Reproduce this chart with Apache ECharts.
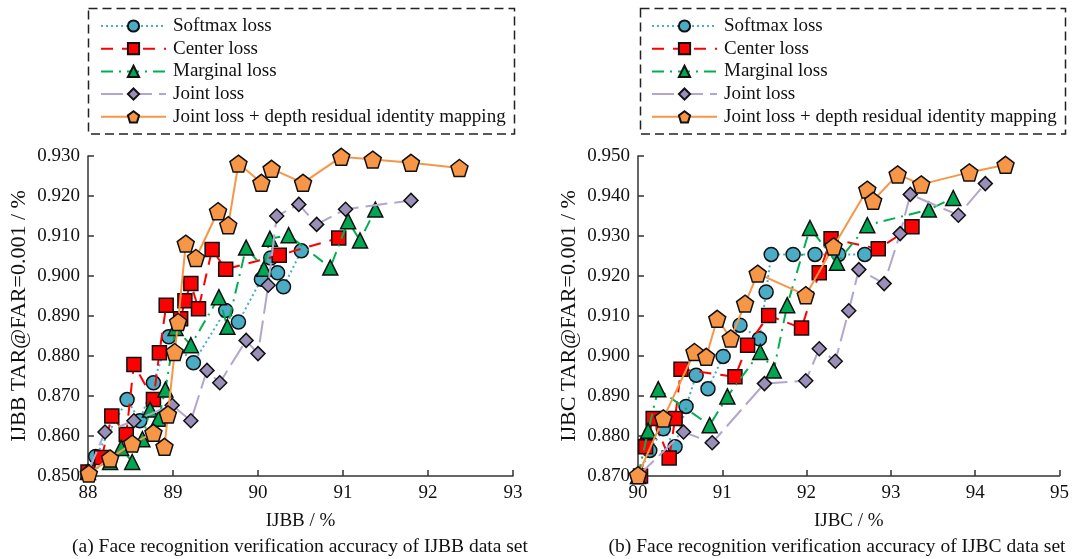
<!DOCTYPE html>
<html><head><meta charset="utf-8">
<script src="https://cdn.jsdelivr.net/npm/echarts@6/dist/echarts.min.js"></script>
<style>html,body{margin:0;padding:0;background:#fff}#c{width:1072px;height:559px}</style>
</head><body><div id="c"></div>
<script>
const seriesNames = ['Softmax loss','Center loss','Marginal loss','Joint loss','Joint loss + depth residual identity mapping'];
const xTicksIJBB = [88,89,90,91,92,93];
const yTicksIJBB = [0.850,0.860,0.870,0.880,0.890,0.900,0.910,0.920,0.930];
const xTicksIJBC = [90,91,92,93,94,95];
const yTicksIJBC = [0.870,0.880,0.890,0.900,0.910,0.920,0.930,0.940,0.950];

const softmaxIJBB = [[88.0,0.851],[88.09,0.8549],[88.46,0.8691],[88.61,0.8638],[88.77,0.8733],[88.95,0.8848],[89.24,0.8783],[89.62,0.8914],[89.77,0.8885],[90.04,0.8992],[90.15,0.9045],[90.23,0.9008],[90.30,0.8973],[90.51,0.9063]];
const centerIJBB = [[88.0,0.851],[88.16,0.8546],[88.28,0.865],[88.45,0.8604],[88.54,0.8779],[88.77,0.8691],[88.84,0.8808],[88.92,0.8927],[89.09,0.8893],[89.14,0.8938],[89.21,0.8981],[89.30,0.8918],[89.46,0.9066],[89.62,0.9017],[90.25,0.9052],[90.95,0.9095]];
const marginalIJBB = [[88.0,0.851],[88.26,0.8535],[88.39,0.857],[88.52,0.8535],[88.64,0.8592],[88.73,0.8666],[88.83,0.8643],[88.91,0.8716],[89.03,0.887],[89.21,0.8827],[89.54,0.8947],[89.64,0.8873],[89.86,0.9071],[90.07,0.9018],[90.14,0.9093],[90.36,0.9102],[90.85,0.9021],[91.06,0.9137],[91.20,0.9089],[91.38,0.9166]];
const jointIJBB = [[88.0,0.851],[88.20,0.861],[88.54,0.8638],[88.99,0.8677],[89.21,0.8638],[89.40,0.8764],[89.55,0.8733],[89.86,0.8839],[90.0,0.8806],[90.12,0.8977],[90.22,0.915],[90.48,0.9179],[90.69,0.9129],[91.03,0.9167],[91.80,0.9189]];
const depthIJBB = [[88.01,0.8506],[88.26,0.8544],[88.52,0.8581],[88.77,0.8608],[88.90,0.8573],[88.94,0.8654],[89.02,0.881],[89.06,0.8885],[89.15,0.9081],[89.27,0.9045],[89.53,0.9162],[89.65,0.9127],[89.77,0.9281],[90.04,0.9233],[90.16,0.9268],[90.53,0.9233],[90.98,0.9298],[91.35,0.9291],[91.80,0.9283],[92.37,0.927]];

const softmaxIJBC = [[90.0,0.870],[90.14,0.8764],[90.30,0.8818],[90.44,0.8773],[90.57,0.8874],[90.69,0.8952],[90.83,0.8918],[91.01,0.8999],[91.21,0.9077],[91.44,0.9043],[91.52,0.916],[91.58,0.9254],[91.84,0.9254],[92.10,0.9254],[92.38,0.9254],[92.69,0.9254]];
const centerIJBC = [[90.03,0.870],[90.09,0.8773],[90.18,0.8844],[90.37,0.8745],[90.44,0.8844],[90.51,0.8967],[91.15,0.8948],[91.30,0.9027],[91.55,0.9101],[91.94,0.907],[92.15,0.9208],[92.29,0.9293],[92.85,0.9268],[93.25,0.9323]];
const marginalIJBC = [[90.0,0.870],[90.12,0.8813],[90.24,0.8917],[90.85,0.8827],[91.06,0.8899],[91.45,0.901],[91.61,0.8964],[91.77,0.9127],[92.04,0.932],[92.36,0.9233],[92.72,0.9327],[93.45,0.9366],[93.74,0.9395]];
const jointIJBC = [[90.0,0.870],[90.54,0.881],[90.88,0.8783],[91.50,0.8931],[91.99,0.8938],[92.15,0.9018],[92.34,0.8987],[92.50,0.9113],[92.62,0.9216],[92.92,0.9181],[93.11,0.9306],[93.23,0.9404],[93.80,0.9352],[94.12,0.9431]];
const depthIJBC = [[90.0,0.8702],[90.30,0.8844],[90.67,0.901],[90.81,0.8998],[90.94,0.9093],[91.10,0.9044],[91.27,0.9131],[91.42,0.9206],[91.99,0.9152],[92.32,0.9274],[92.72,0.9416],[92.79,0.9388],[93.08,0.9454],[93.36,0.9429],[93.93,0.9459],[94.36,0.9478]];

const FONT = '"Liberation Serif", "Times New Roman", serif';
const PENT = 'path://M0,-1 L0.951,-0.309 L0.588,0.809 L-0.588,0.809 L-0.951,-0.309 Z';
const styles = [
  {symbol:'circle', size:14, fill:'#4BACC6', line:'#4BACC6', type:[2,3]},
  {symbol:'rect', size:14, fill:'#FF0000', line:'#FF0000', type:[12,9]},
  {symbol:'triangle', size:15, fill:'#00A651', line:'#00B050', type:[12,6,2,6]},
  {symbol:'diamond', size:14, fill:'#9A8FB8', line:'#B3A6CC', type:[22,7]},
  {symbol:PENT, size:17, fill:'#F79646', line:'#F79646', type:'solid'}
];
const dataL = [softmaxIJBB, centerIJBB, marginalIJBB, jointIJBB, depthIJBB];
const dataR = [softmaxIJBC, centerIJBC, marginalIJBC, jointIJBC, depthIJBC];

function mk(i, data, axis){
  const s = styles[i];
  return {name: seriesNames[i], type:'line', xAxisIndex:axis, yAxisIndex:axis, data:data,
    symbol:s.symbol, symbolSize:s.size, clip:false, z: 2+i,
    lineStyle:{color:s.line, width:2, type:s.type},
    itemStyle:{color:s.fill, borderColor:'#111', borderWidth:1.5},
    emphasis:{disabled:true}, animation:false};
}
const series = [];
for (let i=0;i<5;i++){ series.push(mk(i, dataL[i], 0)); series.push(mk(i, dataR[i], 1)); }

function xAx(ticks, idx, name){
  return {type:'value', gridIndex:idx, min:ticks[0], max:ticks[ticks.length-1], interval:1,
    name:name, nameLocation:'middle', nameGap:36,
    nameTextStyle:{fontFamily:FONT, fontSize:19, color:'#111'},
    axisLine:{lineStyle:{color:'#333', width:1.5}},
    axisTick:{inside:true, length:6, lineStyle:{color:'#333', width:1.5}},
    axisLabel:{fontFamily:FONT, fontSize:19, color:'#111', margin:8},
    splitLine:{show:false}};
}
function yAx(ticks, idx, name){
  return {type:'value', gridIndex:idx, min:ticks[0], max:ticks[ticks.length-1], interval:0.01,
    name:name, nameLocation:'middle', nameGap:58, nameRotate:90,
    nameTextStyle:{fontFamily:FONT, fontSize:22, color:'#111'},
    axisLine:{show:true, lineStyle:{color:'#333', width:1.5}},
    axisTick:{show:true, inside:true, length:6, lineStyle:{color:'#333', width:1.5}},
    axisLabel:{fontFamily:FONT, fontSize:19, color:'#111', margin:8, formatter:v=>v.toFixed(3)},
    splitLine:{show:false}};
}
function legend(left){
  return {orient:'vertical', left:left, top:11, padding:[5,5,5,5], itemWidth:65, itemHeight:14, itemGap:2.7,
    textStyle:{fontFamily:FONT, fontSize:19, color:'#111', lineHeight:20, padding:[0,0,0,2]},
    data: seriesNames, selectedMode:false};
}
const chart = echarts.init(document.getElementById('c'), null, {renderer:'canvas'});
chart.setOption({
  backgroundColor:'#fff', animation:false,
  grid:[{left:88, right:1072-513, top:156, bottom:83},{left:638, right:1072-1062, top:156, bottom:83}],
  xAxis:[xAx(xTicksIJBB,0,'IJBB / %'), xAx(xTicksIJBC,1,'IJBC / %')],
  yAxis:[yAx(yTicksIJBB,0,'IJBB TAR@FAR=0.001 / %'), yAx(yTicksIJBC,1,'IJBC TAR@FAR=0.001 / %')],
  legend:[legend(95), legend(646)],
  series: series,
  graphic:[
    {type:'rect', shape:{x:88.5,y:8.5,width:426,height:125.5}, style:{fill:'none', stroke:'#222', lineWidth:1.5, lineDash:[9,5]}, silent:true},
    {type:'rect', shape:{x:640.5,y:8.5,width:425,height:125.5}, style:{fill:'none', stroke:'#222', lineWidth:1.5, lineDash:[9,5]}, silent:true},
    {type:'text', x:300, y:547, style:{text:'(a) Face recognition verification accuracy of IJBB data set', fontFamily:FONT, fontSize:19.5, fill:'#111', align:'center', verticalAlign:'middle'}},
    {type:'text', x:837, y:547, style:{text:'(b) Face recognition verification accuracy of IJBC data set', fontFamily:FONT, fontSize:19.5, fill:'#111', align:'center', verticalAlign:'middle'}}
  ]
});
</script></body></html>
